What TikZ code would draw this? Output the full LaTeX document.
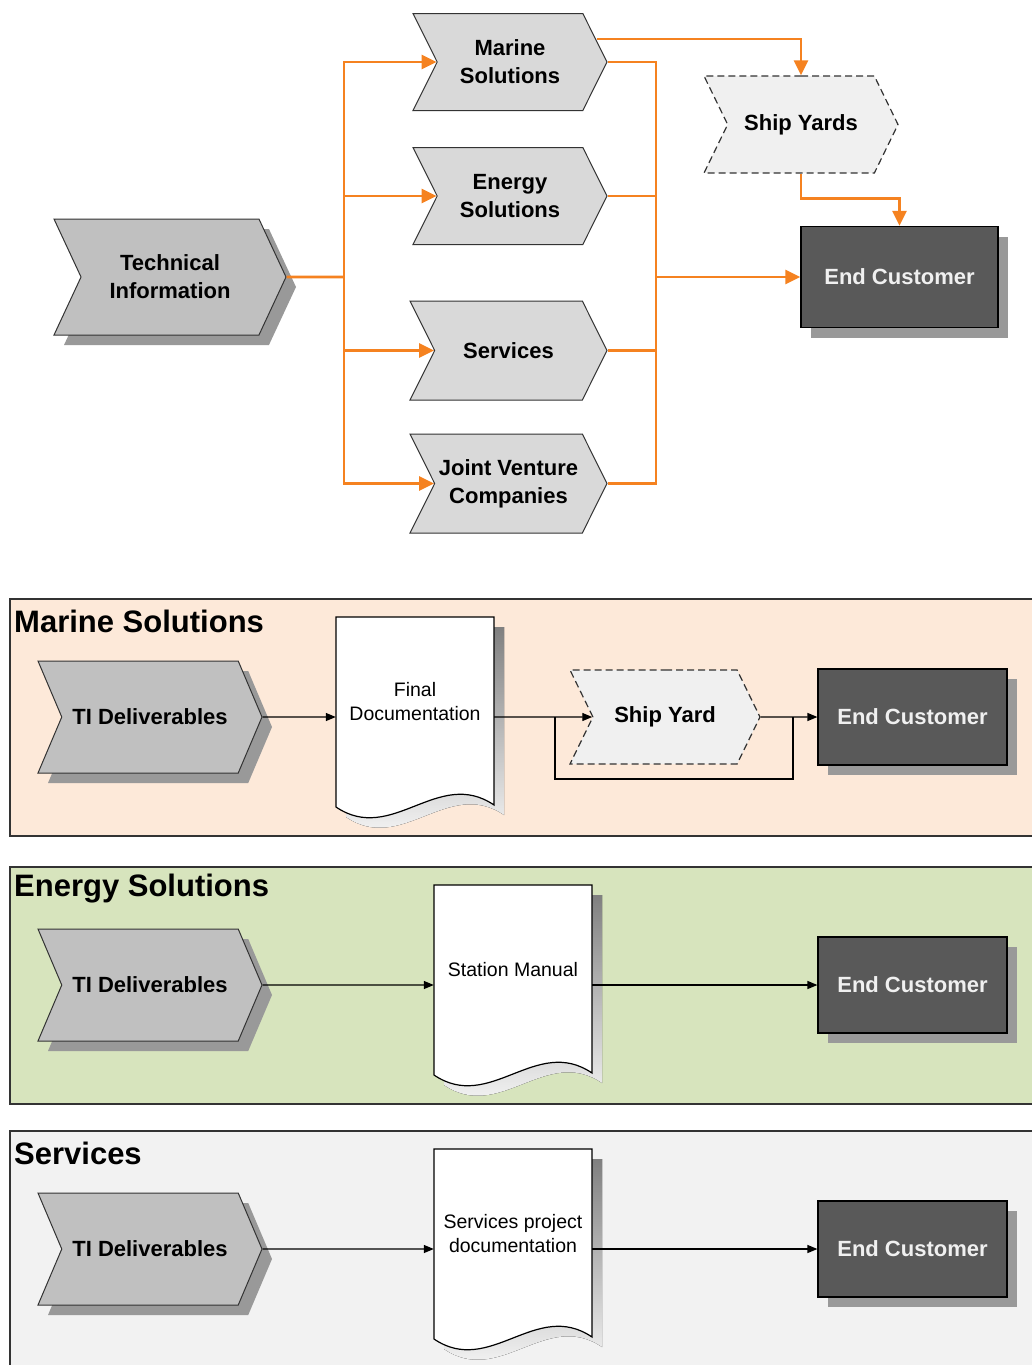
\documentclass[tikz,border=0pt]{standalone}
\usepackage{fontspec}
\setmainfont{Liberation Sans}
\usepackage{tikz}
\usetikzlibrary{shapes.symbols,shadows,positioning,arrows.meta}

\definecolor{flow}{RGB}{245,130,32}
\definecolor{shade}{RGB}{153,153,153}
\definecolor{rimgray}{RGB}{51,51,51}
\definecolor{chevdark}{RGB}{192,192,192}
\definecolor{chevlight}{RGB}{217,217,217}
\definecolor{yardfill}{RGB}{240,240,240}
\definecolor{custfill}{RGB}{89,89,89}
\definecolor{marinebg}{RGB}{253,233,217}
\definecolor{energybg}{RGB}{215,228,189}
\definecolor{servbg}{RGB}{242,242,242}

% document sheet with wavy bottom, #1 #2 = top left corner
\newcommand{\docshape}[2]{%
  \begin{scope}[shift={(#1,#2)}]
    \fill[shade] (10,10) -- (168,10) -- (168,198) .. controls (112,160) and (66,238) .. (10,200) -- cycle;
    \draw[docline] (0,0) -- (158,0) -- (158,188) .. controls (102,150) and (56,228) .. (0,190) -- cycle;
  \end{scope}}

\begin{document}
\begin{tikzpicture}[x=1pt, y=-1pt, on grid,
    chev/.style={signal, signal from=west, signal to=east, draw=rimgray, line width=1pt,
      inner sep=0pt, align=center, font=\fontsize{22}{28}\selectfont\bfseries},
    techchev/.style={chev, fill=chevdark, signal pointer angle=130,
      drop shadow={shadow xshift=10pt, shadow yshift=-10pt, fill=shade, opacity=1}},
    unitchev/.style={chev, fill=chevlight, signal pointer angle=127,
      minimum width=194pt, minimum height=97pt},
    yardchev/.style={chev, fill=yardfill, line width=1.2pt, dash pattern=on 7pt off 4pt, signal pointer angle=128},
    custbox/.style={rectangle, draw=black, line width=1.2pt, fill=custfill, text=white!94!black,
      font=\fontsize{22}{28}\selectfont\bfseries,
      drop shadow={shadow xshift=10pt, shadow yshift=-10pt, fill=shade, opacity=1}},
    doctext/.style={rectangle, minimum width=158pt, minimum height=170pt, inner sep=0pt,
      align=center, font=\fontsize{19.5}{24}\selectfont},
    docline/.style={draw=black, line width=1.2pt, fill=white},
    flowline/.style={draw=flow, line width=2.8pt},
    flowarrow/.style={flowline, -{Triangle[length=15pt,width=14pt]}},
    stepline/.style={draw=black, line width=1.3pt},
    steparrow/.style={stepline, -{Triangle[length=10pt,width=8pt]}},
    panel/.style={draw=rimgray, line width=1.6pt},
    paneltitle/.style={anchor=west, inner sep=0pt, font=\fontsize{31}{35}\selectfont\bfseries},
  ]
\useasboundingbox (0,0) rectangle (1032,1365);

% overview
\node[techchev, minimum width=232pt, minimum height=116pt] (tech) at (170,277) {Technical\\Information};
\node[unitchev] (marine) at (510,62) {Marine\\Solutions};
\node[unitchev] (energy) [below=134pt of marine] {Energy\\Solutions};
\node[unitchev, minimum width=197pt, minimum height=99pt] (services) at (508.5,350.5) {Services};
\node[unitchev, minimum width=197pt, minimum height=99pt] (venture) [below=133pt of services] {Joint Venture\\Companies};
\node[yardchev, minimum width=194pt, minimum height=97pt] (yards) at (801,124.5) {Ship Yards};
\node[custbox, minimum width=197pt, minimum height=101pt] (cust) at (899.5,277) {End Customer};

\coordinate (split) at (344,277);
\coordinate (merge) at (656,277);
\coordinate (yardout) at ([xshift=-11pt,yshift=23pt]marine.east);

\draw[flowline] (tech) -- (split);
\foreach \unit in {marine,energy,services,venture}{
  \draw[flowarrow] (split) |- (\unit);
  \draw[flowline] (\unit) -| (merge);
}
\draw[flowarrow] (merge) -- (cust);
\draw[flowarrow] (yardout) -| (yards.north);
\draw[flowarrow] (yards.south) -- ++(0,25) -| (cust.north);

% Marine Solutions
\filldraw[panel, fill=marinebg] (10,599) rectangle (1045,836);
\node[paneltitle] (mtitle) at (14,621) {Marine Solutions};
\node[techchev, minimum width=224pt, minimum height=112pt, signal pointer angle=134] (mdel) at (150,717) {TI Deliverables};
\docshape{336}{617}
\node[doctext] (mdoc) at (415,702) {Final\\Documentation};
\node[yardchev, minimum width=190pt, minimum height=94pt] (myard) at (665,717) {Ship Yard};
\node[custbox, minimum width=189pt, minimum height=96pt] (mcust) at (912.5,717) {End Customer};
\coordinate (bypass) at (555,717);
\coordinate (rejoin) at (793,717);
\draw[steparrow] (mdel) -- (mdel -| mdoc.west);
\draw[steparrow] (mdel -| mdoc.east) -- (myard);
\draw[stepline] (bypass) -- ++(0,62) -| (rejoin);
\draw[steparrow] (myard) -- (mcust);

% Energy Solutions
\filldraw[panel, fill=energybg] (10,867) rectangle (1045,1104);
\node[paneltitle] (etitle) at (14,889) {Energy Solutions};
\node[techchev, minimum width=224pt, minimum height=112pt, signal pointer angle=134] (edel) at (150,985) {TI Deliverables};
\docshape{434}{885}
\node[doctext] (edoc) at (513,970) {Station Manual};
\node[custbox, minimum width=189pt, minimum height=96pt] (ecust) at (912.5,985) {End Customer};
\draw[steparrow] (edel) -- (edel -| edoc.west);
\draw[steparrow] (edel -| edoc.east) -- (ecust);

% Services
\filldraw[panel, fill=servbg] (10,1131) rectangle (1045,1385);
\node[paneltitle] (stitle) at (14,1153) {Services};
\node[techchev, minimum width=224pt, minimum height=112pt, signal pointer angle=134] (sdel) at (150,1249) {TI Deliverables};
\docshape{434}{1149}
\node[doctext] (sdoc) at (513,1234) {Services project\\documentation};
\node[custbox, minimum width=189pt, minimum height=96pt] (scust) at (912.5,1249) {End Customer};
\draw[steparrow] (sdel) -- (sdel -| sdoc.west);
\draw[steparrow] (sdel -| sdoc.east) -- (scust);

\end{tikzpicture}
\end{document}
